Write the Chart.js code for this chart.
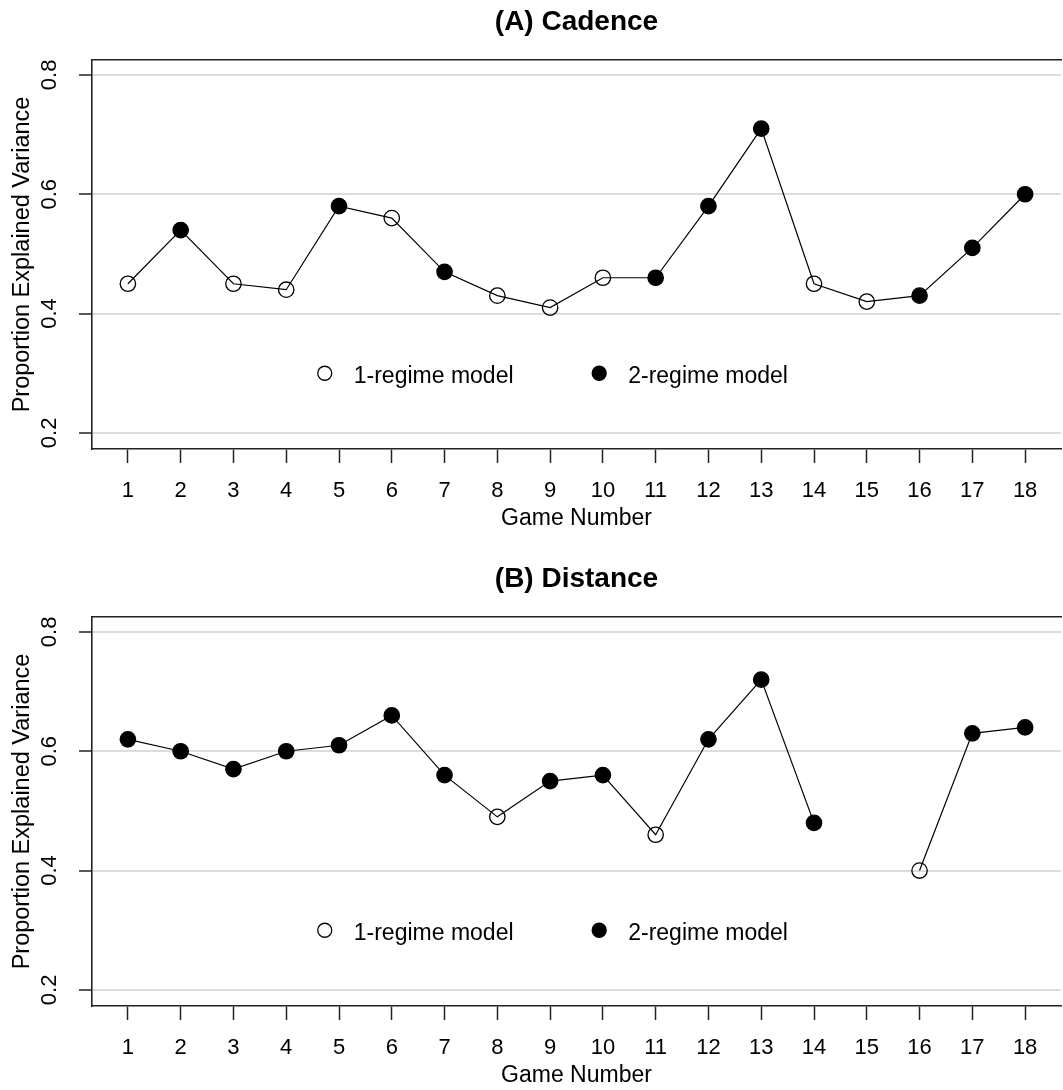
<!DOCTYPE html>
<html>
<head>
<meta charset="utf-8">
<script src="https://cdn.jsdelivr.net/npm/chart.js@4.4.1/dist/chart.umd.min.js"></script>
<style>
html, body { margin: 0; padding: 0; overflow: hidden; background: #fff; width: 1063px; height: 1090px; }
canvas { position: absolute; left: 0; }
#cadence { top: 0; }
#distance { top: 557px; }
</style>
</head>
<body>
<canvas id="cadence" width="1070" height="557"></canvas>
<canvas id="distance" width="1070" height="557"></canvas>
<script>
// data
const games = [1, 2, 3, 4, 5, 6, 7, 8, 9, 10, 11, 12, 13, 14, 15, 16, 17, 18];
const cadenceValues = [0.45, 0.54, 0.45, 0.44, 0.58, 0.56, 0.47, 0.43, 0.41, 0.46, 0.46, 0.58, 0.71, 0.45, 0.42, 0.43, 0.51, 0.60];
const cadenceRegime = [1, 2, 1, 1, 2, 1, 2, 1, 1, 1, 2, 2, 2, 1, 1, 2, 2, 2];
const distanceValues = [0.62, 0.60, 0.57, 0.60, 0.61, 0.66, 0.56, 0.49, 0.55, 0.56, 0.46, 0.62, 0.72, 0.48, null, 0.40, 0.63, 0.64];
const distanceRegime = [2, 2, 2, 2, 2, 2, 2, 1, 2, 2, 1, 2, 2, 2, null, 1, 2, 2];
const yTicks = [0.2, 0.4, 0.6, 0.8];
const yTickLabels = ['0.2', '0.4', '0.6', '0.8'];
const legendLabels = ['1-regime model', '2-regime model'];

const FONT = '"Liberation Sans", Arial, sans-serif';
Chart.defaults.font.family = FONT;
Chart.defaults.color = '#000';

// legend drawn inside the plot, like R's legend(x, y, ...)
const regimeLegend = {
    id: 'regimeLegend',
    afterDatasetsDraw(chart, args, opts) {
        const { ctx, scales: { x, y } } = chart;
        const py = y.getPixelForValue(opts.y);
        ctx.save();
        ctx.font = '23px ' + FONT;
        ctx.textBaseline = 'middle';
        legendLabels.forEach((label, i) => {
            const px = x.getPixelForValue(opts.x[i]);
            ctx.beginPath();
            ctx.arc(px, py, 7, 0, Math.PI * 2);
            ctx.lineWidth = 1.3;
            ctx.strokeStyle = '#000';
            ctx.fillStyle = '#000';
            if (i === 1) ctx.fill();
            ctx.stroke();
            ctx.fillText(label, px + 29, py + 3);
        });
        ctx.restore();
    }
};

function makePanel(id, title, values, regime) {
    const ctx = document.getElementById(id).getContext('2d');
    return new Chart(ctx, {
        type: 'line',
        data: {
            datasets: [{
                data: games.map((g, i) => ({ x: g, y: values[i] })),
                borderColor: '#000',
                borderWidth: 1.2,
                pointRadius: 7.7,
                pointBorderWidth: 1.3,
                pointBorderColor: '#000',
                pointBackgroundColor: regime.map(r => r === 2 ? '#000' : 'rgba(0,0,0,0)'),
                tension: 0,
                spanGaps: false
            }]
        },
        plugins: [regimeLegend],
        options: {
            responsive: false,
            animation: false,
            layout: { padding: { left: 0, right: 4, top: 0, bottom: 0 } },
            scales: {
                x: {
                    type: 'linear',
                    position: 'bottom',
                    min: 0.32,
                    max: 18.68,
                    afterBuildTicks: s => { s.ticks = games.map(v => ({ value: v })); },
                    afterFit: s => { s.height = 108; },
                    ticks: {
                        autoSkip: false,
                        maxRotation: 0,
                        padding: 17,
                        font: { size: 22, lineHeight: 1 },
                        callback: v => String(v)
                    },
                    grid: {
                        drawOnChartArea: false,
                        drawTicks: true,
                        tickLength: 14,
                        tickColor: '#222',
                        tickWidth: 1.5
                    },
                    border: { display: true, color: '#222', width: 1.6 },
                    title: {
                        display: true,
                        text: 'Game Number',
                        font: { size: 23, lineHeight: 1 },
                        padding: { top: 0, bottom: 27 }
                    }
                },
                x2: {
                    type: 'linear',
                    position: 'top',
                    min: 0.32,
                    max: 18.68,
                    afterFit: s => { s.height = 0; },
                    ticks: { display: false },
                    grid: { drawOnChartArea: false, drawTicks: false },
                    border: { display: true, color: '#222', width: 1.6 }
                },
                y: {
                    min: 0.173,
                    max: 0.825,
                    afterBuildTicks: s => { s.ticks = yTicks.map(v => ({ value: v })); },
                    afterFit: s => { s.width = 92; },
                    ticks: {
                        minRotation: 90,
                        maxRotation: 90,
                        crossAlign: 'center',
                        padding: 14,
                        font: { size: 22, lineHeight: 1 },
                        callback: v => yTickLabels[yTicks.indexOf(v)]
                    },
                    grid: {
                        color: '#dcdcdc',
                        lineWidth: 2,
                        tickLength: 13,
                        tickColor: '#222',
                        tickWidth: 1.5
                    },
                    border: { display: true, color: '#222', width: 1.6 },
                    title: {
                        display: true,
                        text: 'Proportion Explained Variance',
                        font: { size: 23.5, lineHeight: 1 },
                        padding: { top: 10.5, bottom: 0 }
                    }
                }
            },
            plugins: {
                legend: { display: false },
                tooltip: { enabled: false },
                title: {
                    display: true,
                    fullSize: false,
                    text: title,
                    color: '#000',
                    font: { size: 28, weight: 'bold', lineHeight: 1 },
                    padding: { top: 8, bottom: 24 }
                },
                regimeLegend: { x: [4.73, 9.93], y: 0.3 }
            }
        }
    });
}

makePanel('cadence', '(A) Cadence', cadenceValues, cadenceRegime);
makePanel('distance', '(B) Distance', distanceValues, distanceRegime);
</script>
</body>
</html>
